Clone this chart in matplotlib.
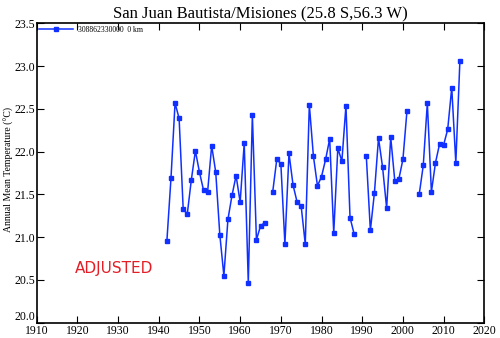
import numpy as np
import matplotlib.pyplot as plt

plt.rcParams['font.family'] = ['Liberation Serif', 'DejaVu Serif']

nan = np.nan
years = list(range(1942, 2015))
temps = [20.96, 21.69, 22.57, 22.39, 21.33, 21.27, 21.67, 22.01, 21.76, 21.55,
         21.53, 22.07, 21.76, 21.03, 20.55, 21.21, 21.49, 21.72, 21.41, 22.10,
         20.47, 22.43, 20.97, 21.13, 21.17, nan, 21.53, 21.91, 21.86, 20.92,
         21.98, 21.61, 21.41, 21.36, 20.92, 22.55, 21.95, 21.60, 21.71, 21.91,
         22.15, 21.05, 22.04, 21.89, 22.54, 21.23, 21.04, nan, nan, 21.95,
         21.08, 21.52, 22.16, 21.82, 21.34, 22.17, 21.66, 21.68, 21.91, 22.48,
         nan, nan, 21.50, 21.84, 22.57, 21.53, 21.87, 22.09, 22.08, 22.26,
         22.75, 21.87, 23.06]

xticks = list(range(1910, 2021, 10))
yticks = [20.0, 20.5, 21.0, 21.5, 22.0, 22.5, 23.0, 23.5]

fig = plt.figure(figsize=(5, 3.38), dpi=100)
ax = fig.add_axes([0.0734, 0.0453, 0.8952, 0.8852])

ax.plot(years, temps, color='#1030ff', lw=1.1, marker='s', ms=3.3,
        mec='#1030ff', mfc='#1030ff', label='308862330000  0 km')

ax.set_xlim(1910, 2020)
ax.set_ylim(20.0, 23.5)
ax.set_xticks(xticks)
ax.set_yticks(yticks)
ax.set_yticklabels(['%.1f' % v for v in yticks])
ax.tick_params(direction='in', top=True, right=True, length=5, width=0.8,
               labelsize=8.5, pad=1)
ax.tick_params(axis='x', pad=1.5)
# lift the bottom y label a little so it clears the 1910 label
ax.get_yticklabels()[0].set_va('bottom')
for s in ax.spines.values():
    s.set_linewidth(1.2)

ax.set_title('San Juan Bautista/Misiones (25.8 S,56.3 W)', fontsize=12, pad=4)
fig.text(0.008, 0.5, 'Annual Mean Temperature (\u00b0C)', rotation=90,
         fontsize=7, va='center', ha='left')

ax.legend(loc='upper left', frameon=False, fontsize=5.5, handlelength=4.5,
          borderaxespad=0.1, borderpad=0.2, handletextpad=0.6)

fig.text(0.15, 0.207, 'ADJUSTED', color='#e41e26', fontsize=11,
         family='DejaVu Sans', va='center', ha='left')

fig.savefig('out.png', dpi=100)
